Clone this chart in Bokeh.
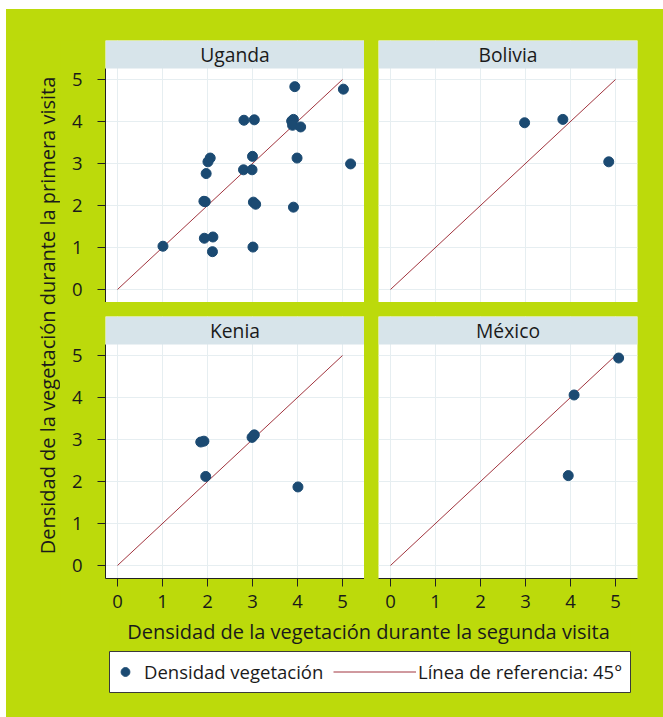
import numpy as np
from bokeh.plotting import figure
from bokeh.layouts import row, column
from bokeh.models import (Range1d, FixedTicker, Label, Legend, LegendItem, Grid, Spacer,
                          BoxAnnotation)
from bokeh.embed import file_html
from bokeh.resources import INLINE
from bokeh.core.properties import value

# ---------------- data ----------------
countries = ["Uganda", "Bolivia", "Kenia", "México"]

uganda_x = [3.94, 5.02, 2.81, 3.04, 3.87, 3.91, 3.89, 4.07, 2.06, 2.01, 3.00, 3.99, 5.18,
            1.97, 2.80, 2.99, 1.92, 1.95, 3.02, 3.07, 3.91, 1.01, 1.93, 2.12, 2.11, 3.01]
uganda_y = [4.83, 4.77, 4.03, 4.04, 4.01, 4.05, 3.91, 3.87, 3.13, 3.04, 3.17, 3.13, 2.99,
            2.76, 2.85, 2.85, 2.10, 2.09, 2.08, 2.03, 1.96, 1.03, 1.22, 1.25, 0.90, 1.01]

bolivia_x = [2.98, 3.83, 4.85]
bolivia_y = [3.97, 4.05, 3.04]

kenia_x = [1.85, 1.92, 1.96, 2.99, 3.04, 4.01]
kenia_y = [2.94, 2.96, 2.12, 3.05, 3.11, 1.87]

mexico_x = [5.07, 4.08, 3.95]
mexico_y = [4.94, 4.06, 2.14]

ref_x = [0, 5]
ref_y = [0, 5]

ticks = [0, 1, 2, 3, 4, 5]

x_title = "Densidad de la vegetación durante la segunda visita"
y_title = "Densidad de la vegetación durante la primera visita"
legend_points = "Densidad vegetación"
legend_line = "Línea de referencia: 45°"

# ---------------- style ----------------
GREEN = "#bcda0b"
HEAD = "#d7e4ea"
GRIDC = "#e6eef1"
DOT = "#1b4a72"
LINEC = "#a1343e"
AXIS = "#222222"
TEXT = "#1a1a1a"
FONT = "Open Sans"
FS = "18.5px"
FS_H = "19.3px"
FS_T = "20px"

PAD_L = 6      # white strip left
PAD_T = 9      # white strip top
GREEN_W = 663 - PAD_L
FRAME_W = 259
FRAME_H = 234
HEAD_H = 28
GAP = 14
LEFT_B = 45
RIGHT_B = 26
BOTTOM_B = 39
YT_W = 54
TOP_SP = 31

XR = (-0.267, 5.489)
YR = (-0.31, 5.262)
# the strip on top of each panel continues the same vertical scale
Y_TOP = YR[1] + HEAD_H * (YR[1] - YR[0]) / FRAME_H


def base_fig(width, height, left, right, bottom, xr, yr, xaxis=None, yaxis=None,
             bg="white", outline=None, top=0):
    p = figure(width=width, height=height,
               x_range=Range1d(*xr), y_range=Range1d(*yr),
               x_axis_location=xaxis, y_axis_location=yaxis,
               toolbar_location=None, output_backend="svg",
               min_border_left=left, min_border_right=right,
               min_border_top=top, min_border_bottom=bottom,
               background_fill_color=bg, border_fill_color=GREEN,
               outline_line_color=outline)
    try:
        p.frame_align = False
    except Exception:
        pass
    for g in p.grid:
        g.visible = False
    return p


def style_axis(ax):
    ax.ticker = FixedTicker(ticks=ticks)
    ax.minor_tick_line_color = None
    ax.major_tick_in = 0
    ax.major_tick_out = 8
    ax.axis_line_color = AXIS
    ax.axis_line_width = 1
    ax.major_tick_line_color = AXIS
    ax.major_label_text_font = FONT
    ax.major_label_text_font_size = FS
    ax.major_label_text_color = TEXT


def panel(name, xs, ys, left, bottom):
    width = (LEFT_B + FRAME_W) if left else (FRAME_W + RIGHT_B)
    height = HEAD_H + FRAME_H + (BOTTOM_B if bottom else 0)
    p = base_fig(width, height,
                 LEFT_B if left else 0, 0 if left else RIGHT_B,
                 BOTTOM_B if bottom else 0, XR, (YR[0], Y_TOP),
                 xaxis="below" if bottom else None,
                 yaxis="left" if left else None)
    p.add_layout(Grid(dimension=0, ticker=FixedTicker(ticks=ticks),
                      grid_line_color=GRIDC, grid_line_width=1), "center")
    p.add_layout(Grid(dimension=1, ticker=FixedTicker(ticks=ticks),
                      grid_line_color=GRIDC, grid_line_width=1), "center")
    if left:
        style_axis(p.yaxis[0])
        p.yaxis[0].major_label_standoff = 15
        p.yaxis[0].bounds = YR
    if bottom:
        style_axis(p.xaxis[0])
        p.xaxis[0].major_label_standoff = 8
    p.line(ref_x, ref_y, line_color=LINEC, line_width=1)
    p.scatter(xs, ys, size=10, fill_color=DOT, line_color=DOT, marker="circle")
    # header strip
    p.add_layout(BoxAnnotation(bottom=YR[1], fill_color=HEAD, fill_alpha=1,
                               line_color=None))
    p.add_layout(Label(x=FRAME_W / 2, y=FRAME_H + 14.5, x_units="screen",
                       y_units="screen", text=name, text_align="center",
                       text_baseline="middle", text_font=FONT, text_font_size=FS_H,
                       text_color=TEXT))
    return p


pU = panel(countries[0], uganda_x, uganda_y, True, False)
pB = panel(countries[1], bolivia_x, bolivia_y, False, False)
pK = panel(countries[2], kenia_x, kenia_y, True, True)
pM = panel(countries[3], mexico_x, mexico_y, False, True)

BLOCK_W = LEFT_B + FRAME_W + GAP + FRAME_W + RIGHT_B
block = column(
    row(pU, Spacer(width=GAP, height=HEAD_H + FRAME_H), pB),
    Spacer(width=BLOCK_W, height=GAP),
    row(pK, Spacer(width=GAP, height=HEAD_H + FRAME_H + BOTTOM_B), pM),
)
BLOCK_H = HEAD_H + FRAME_H + GAP + HEAD_H + FRAME_H + BOTTOM_B
BLOCK_TOP = PAD_T + TOP_SP          # page y of block top (40)
BLOCK_BOT = BLOCK_TOP + BLOCK_H     # page y of block bottom

# y title figure
yt = base_fig(YT_W, BLOCK_H, 0, 0, 0, (0, 1), (0, 1), bg=GREEN)
yt.add_layout(Label(x=47 - PAD_L, y=BLOCK_BOT - 315, x_units="screen", y_units="screen",
                    angle=np.pi / 2, text=y_title, text_align="center",
                    text_baseline="middle", text_font=FONT, text_font_size=FS_T,
                    text_color=TEXT))

# x title figure (frame spans the same columns as the legend box)
LG_FRAME_L, LG_FRAME_R, LG_FRAME_T, LG_FRAME_B = 109, 630, 651, 692
XT_BOT = 650
XT_H = XT_BOT - BLOCK_BOT
xt = base_fig(GREEN_W, XT_H, LG_FRAME_L - PAD_L, 663 - LG_FRAME_R, 0, (0, 1), (0, 1),
              bg=GREEN)
xt.add_layout(Label(x=368 - LG_FRAME_L, y=XT_BOT - 631, x_units="screen",
                    y_units="screen", text=x_title, text_align="center",
                    text_baseline="middle", text_font=FONT, text_font_size=FS_T,
                    text_color=TEXT))

# legend figure
LG_H = 717 - XT_BOT
lg = base_fig(GREEN_W, LG_H, LG_FRAME_L - PAD_L, 663 - LG_FRAME_R, 717 - LG_FRAME_B,
              (-20, -19), (-20, -19), bg="white", outline="#3a3a3a",
              top=LG_FRAME_T - XT_BOT)
lg.outline_line_width = 1
# legend proxies drawn from the data, outside the visible range of this figure
r_pts = lg.scatter(uganda_x, uganda_y, size=10, fill_color=DOT, line_color=DOT,
                   marker="circle")
r_line = lg.line(ref_x, ref_y, line_color=LINEC, line_width=1)

common = dict(orientation="horizontal", glyph_height=25, label_height=25, padding=0,
              margin=0, spacing=0, border_line_color=None, background_fill_alpha=0,
              label_text_font=FONT, label_text_font_size=FS, label_text_color=TEXT)
leg1 = Legend(items=[LegendItem(label=value(legend_points), renderers=[r_pts])],
              location=(5, 8), glyph_width=22, label_standoff=8, **common)
leg2 = Legend(items=[LegendItem(label=value(legend_line), renderers=[r_line])],
              location=(224, 8), glyph_width=83, label_standoff=2, **common)
lg.add_layout(leg1, "center")
lg.add_layout(leg2, "center")

green = column(
    Spacer(width=GREEN_W, height=TOP_SP),
    row(yt, block),
    xt,
    lg,
    styles={"background-color": GREEN},
)

root = column(
    Spacer(width=663, height=PAD_T),
    row(Spacer(width=PAD_L, height=717 - PAD_T), green),
)

open("out.html", "w").write(file_html(root, INLINE))
